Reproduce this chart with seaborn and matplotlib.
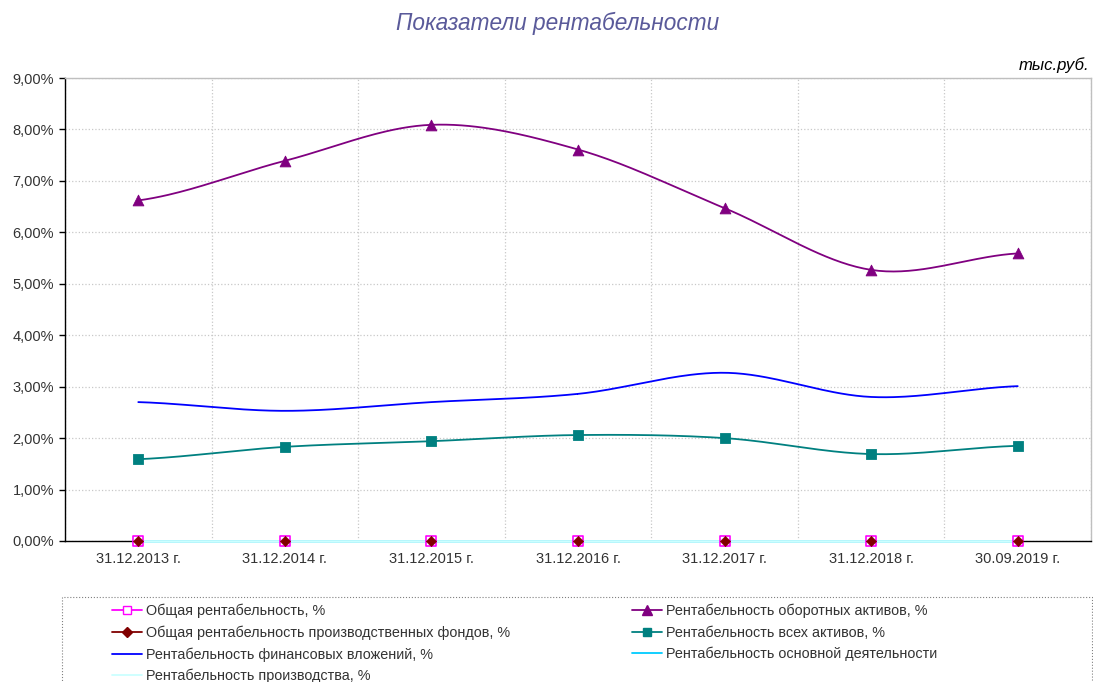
import matplotlib
matplotlib.use("Agg")
import matplotlib.pyplot as plt
import matplotlib.ticker as mticker
from matplotlib.lines import Line2D
from matplotlib.patches import Rectangle
import seaborn as sns
import pandas as pd
import numpy as np

sns.set_theme(style="white")
plt.rcParams["font.family"] = ["Liberation Sans", "DejaVu Sans"]

dates = ["31.12.2013 г.", "31.12.2014 г.", "31.12.2015 г.", "31.12.2016 г.",
         "31.12.2017 г.", "31.12.2018 г.", "30.09.2019 г."]
# values in %
obshaya = [0.0, 0.0, 0.0, 0.0, 0.0, 0.0, 0.0]
oborotnye = [6.62, 7.39, 8.09, 7.61, 6.47, 5.27, 5.59]
proizv_fondy = [0.0, 0.0, 0.0, 0.0, 0.0, 0.0, 0.0]
vse_aktivy = [1.59, 1.83, 1.94, 2.06, 2.00, 1.69, 1.85]
fin_vlozh = [2.70, 2.53, 2.70, 2.86, 3.27, 2.80, 3.01]
osn_deyat = [0.0, 0.0, 0.0, 0.0, 0.0, 0.0, 0.0]
proizvodstvo = [0.0, 0.0, 0.0, 0.0, 0.0, 0.0, 0.0]

labels = ["Общая рентабельность, %",
          "Рентабельность оборотных активов, %",
          "Общая рентабельность производственных фондов, %",
          "Рентабельность всех активов, %",
          "Рентабельность финансовых вложений, %",
          "Рентабельность основной деятельности",
          "Рентабельность производства, %"]
colors = ["#ff00ff", "#800080", "#800000", "#008080", "#0000ff", "#00ccff", "#ccffff"]
series = [obshaya, oborotnye, proizv_fondy, vse_aktivy, fin_vlozh, osn_deyat, proizvodstvo]


def smooth(y, n=40):
    # Catmull-Rom like Excel's smoothed line
    y = np.asarray(y, float)
    p = np.concatenate([[y[0]], y, [y[-1]]])
    xs, ys = [], []
    for i in range(len(y) - 1):
        t = np.linspace(0, 1, n)
        p0, p1, p2, p3 = p[i], p[i + 1], p[i + 2], p[i + 3]
        seg = 0.5 * (2 * p1 + (-p0 + p2) * t + (2 * p0 - 5 * p1 + 4 * p2 - p3) * t ** 2
                     + (-p0 + 3 * p1 - 3 * p2 + p3) * t ** 3)
        xs.append(i + t)
        ys.append(seg)
    return np.concatenate(xs), np.concatenate(ys)


fig = plt.figure(figsize=(10.93, 6.82), dpi=100)
ax = fig.add_axes([65 / 1093, 141 / 682, 1026 / 1093, 463 / 682])

x = np.arange(len(dates))
for vals, col in zip(series, colors):
    sx, sy = smooth(vals)
    zero = max(vals) == 0
    sns.lineplot(x=sx, y=sy, color=col, lw=2 if zero else 1.3, ax=ax, estimator=None,
                 sort=False, zorder=3, clip_on=False)

sns.scatterplot(x=x, y=oborotnye, marker="^", s=60, color="#800080", edgecolor="#800080", ax=ax, zorder=4)
sns.scatterplot(x=x, y=vse_aktivy, marker="s", s=55, color="#008080", edgecolor="#008080", ax=ax, zorder=4)
sns.scatterplot(x=x, y=obshaya, marker="s", s=45, facecolor="white", edgecolor="#ff00ff", linewidth=1.2,
                ax=ax, zorder=4, clip_on=False)
sns.scatterplot(x=x, y=proizv_fondy, marker="D", s=28, color="#800000", edgecolor="#800000", ax=ax,
                zorder=5, clip_on=False)

ax.set_xlim(-0.5, len(dates) - 0.5)
ax.set_ylim(0, 9)
ax.set_xticks(x)
ax.set_xticklabels(dates)
ax.set_xticks(np.arange(-0.5, len(dates)), minor=True)
ax.yaxis.set_major_locator(mticker.MultipleLocator(1))
ax.yaxis.set_major_formatter(mticker.FuncFormatter(lambda v, p: f"{v:.2f}%".replace(".", ",")))
ax.tick_params(axis="x", which="major", length=0, pad=8, labelsize=10.5, labelcolor="#333333")
ax.tick_params(axis="x", which="minor", length=8, direction="inout", color="#333333", width=1)
ax.tick_params(axis="y", which="major", length=4, direction="out", color="black", width=1,
               left=True, labelsize=10.5, labelcolor="#333333", pad=4)
ax.grid(axis="y", which="major", color="#c8c8c8", ls=":", lw=0.9)
ax.grid(axis="x", which="minor", color="#c8c8c8", ls=":", lw=0.9)
ax.set_xlabel("")
ax.set_ylabel("")
for s in ["left", "bottom"]:
    ax.spines[s].set_color("black")
    ax.spines[s].set_linewidth(1)
for s in ["top", "right"]:
    ax.spines[s].set_color("#bfbfbf")
    ax.spines[s].set_linewidth(1)

fig.text(558 / 1093, 1 - 23 / 682, "Показатели рентабельности", ha="center", va="center",
         fontsize=16.3, style="italic", color="#5a5a9a")
fig.text(1089 / 1093, 1 - 65 / 682, "тыс.руб.", ha="right", va="center",
         fontsize=12, style="italic", color="black")

handles = [
    Line2D([], [], color="#ff00ff", lw=1.3, marker="s", ms=6, mfc="white", mec="#ff00ff"),
    Line2D([], [], color="#800080", lw=1.3, marker="^", ms=7, mfc="#800080", mec="#800080"),
    Line2D([], [], color="#800000", lw=1.3, marker="D", ms=5, mfc="#800000", mec="#800000"),
    Line2D([], [], color="#008080", lw=1.3, marker="s", ms=6, mfc="#008080", mec="#008080"),
    Line2D([], [], color="#0000ff", lw=1.3),
    Line2D([], [], color="#00ccff", lw=1.3),
    Line2D([], [], color="#ccffff", lw=1.3),
]
col1 = [0, 2, 4, 6]
col2 = [1, 3, 5]
leg_kw = dict(loc="upper left", frameon=False, fontsize=10.4, handlelength=2.1,
              handletextpad=0.25, labelspacing=0.5, borderpad=0, borderaxespad=0,
              labelcolor="#333333")
leg1 = fig.legend([handles[i] for i in col1], [labels[i] for i in col1],
                  bbox_to_anchor=(112 / 1093, 1 - 604 / 682), **leg_kw)
leg2 = fig.legend([handles[i] for i in col2], [labels[i] for i in col2],
                  bbox_to_anchor=(632 / 1093, 1 - 604 / 682), **leg_kw)
fig.add_artist(Rectangle((62 / 1093, -0.1), 1030 / 1093, 0.1 + 85 / 682,
                         transform=fig.transFigure, fill=False, ls=":", ec="#808080",
                         lw=0.8, clip_on=False))

fig.savefig("out.png", dpi=100)
